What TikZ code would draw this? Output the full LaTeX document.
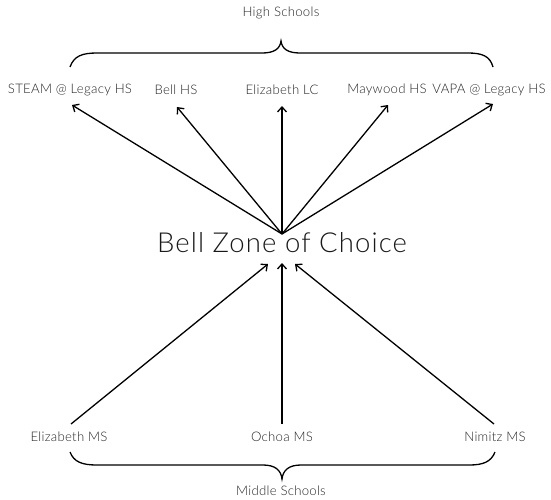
\documentclass[tikz,border=0pt]{standalone}
\usepackage{fontspec}
\setmainfont{Lato Light}
\usetikzlibrary{arrows.meta}
\begin{document}
\begin{tikzpicture}[x=1pt,y=-1pt,
  lbl/.style={inner sep=0pt, font=\fontsize{13.2}{15}\selectfont\addfontfeatures{LetterSpace=2}, text=black!85},
  ttl/.style={inner sep=0pt, font=\fontsize{27.5}{30}\selectfont\addfontfeatures{LetterSpace=4}, text=black!90},
  arr/.style={line width=1.3pt, -{Straight Barb[length=5pt,width=9pt,line width=1.3pt]}},
  brc/.style={line width=1.3pt}]
\useasboundingbox (0,0) rectangle (551,499);
\node[lbl] (hs) at (281,13) {High Schools};
\node[lbl] (ms) at (281,491) {Middle Schools};
\node[ttl] (bz) at (282,243) {Bell Zone of Choice};
\coordinate (top) at (282,234);
\coordinate (t1) at (72,105);
\coordinate (t2) at (177,107);
\coordinate (t3) at (282,106);
\coordinate (t4) at (388,105);
\coordinate (t5) at (493,104);
\node[lbl] (steam) at (70,90) {STEAM @ Legacy HS};
\node[lbl] (bell) at (176,90) {Bell HS};
\node[lbl] (eliz) at (282,90) {Elizabeth LC};
\node[lbl] (may) at (387,90) {Maywood HS};
\node[lbl] (vapa) at (489,90) {VAPA @ Legacy HS};
\node[lbl] (ems) at (69,437) {Elizabeth MS};
\node[lbl] (oms) at (282,437) {Ochoa MS};
\node[lbl] (nms) at (495,437) {Nimitz MS};
\coordinate (b1) at (268,264);
\coordinate (b2) at (282,263);
\coordinate (b3) at (295,264);
\coordinate (s1) at (71,424);
\coordinate (s2) at (282,424);
\coordinate (s3) at (494,424);
\foreach \t in {t1,t2,t3,t4,t5} \draw[arr] (top) -- (\t);
\draw[arr] (s1) -- (b1);
\draw[arr] (s2) -- (b2);
\draw[arr] (s3) -- (b3);
% top brace
\draw[brc] (70,67) .. controls (74,56) and (82,53) .. (97,53) -- (262,53)
  .. controls (274,53) and (280,49) .. (281,41)
  .. controls (282,49) and (288,53) .. (300,53) -- (468,53)
  .. controls (482,53) and (490,56) .. (493,67);
% bottom brace
\draw[brc] (70,452) .. controls (74,462) and (82,465) .. (97,465) -- (263,465)
  .. controls (275,465) and (281,470) .. (282,479)
  .. controls (283,470) and (289,465) .. (301,465) -- (469,465)
  .. controls (483,465) and (491,462) .. (495,452);
\end{tikzpicture}
\end{document}
